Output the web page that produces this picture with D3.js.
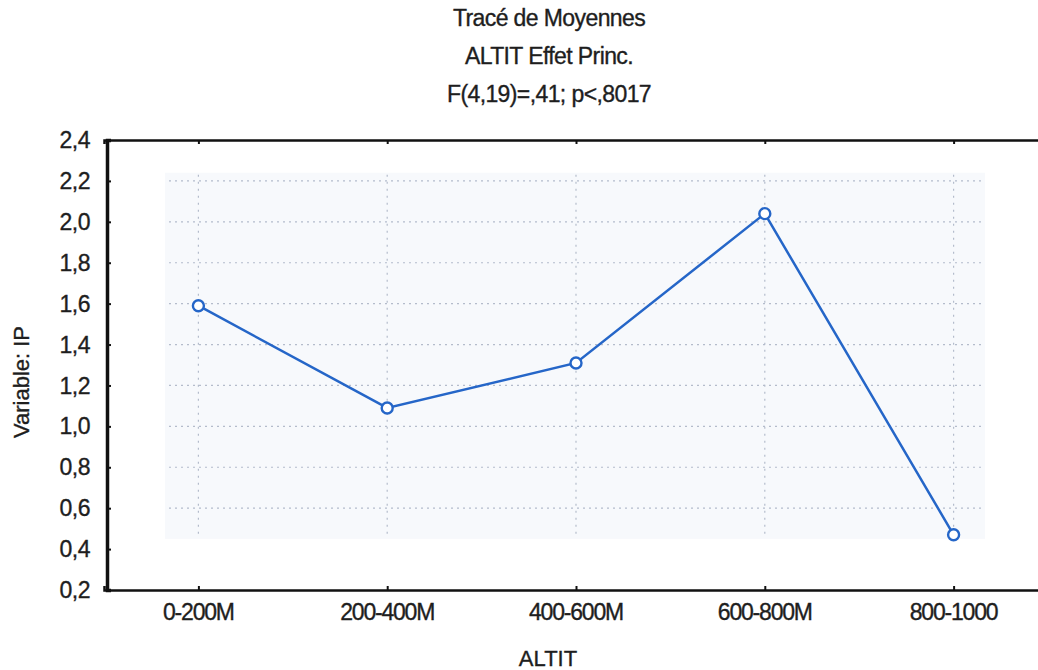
<!DOCTYPE html>
<html>
<head>
<meta charset="utf-8">
<script src="https://cdn.jsdelivr.net/npm/d3@7"></script>
<style>
    body { margin: 0; background: #fff; }
    svg text { font-family: "Liberation Sans", Arial, sans-serif; fill: #1e1e1e; stroke: #1e1e1e; stroke-width: 0.35px; }
</style>
</head>
<body>
<div id="chart"></div>
<script>
// Data
const categories = ['0-200M', '200-400M', '400-600M', '600-800M', '800-1000'];
const means = [1.59, 1.09, 1.31, 2.04, 0.47];
const yTicks = [0.2, 0.4, 0.6, 0.8, 1.0, 1.2, 1.4, 1.6, 1.8, 2.0, 2.2, 2.4];
const gridValues = [0.6, 0.8, 1.0, 1.2, 1.4, 1.6, 1.8, 2.0, 2.2];
const titleLines = ['Tracé de Moyennes', 'ALTIT Effet Princ.', 'F(4,19)=,41; p<,8017'];

const width = 1038,
    height = 670,
    margin = { top: 140, right: 0, bottom: 80, left: 107 },
    innerW = width - margin.left - margin.right,
    innerH = height - margin.top - margin.bottom;

const fmt = v => d3.format('.1f')(v).replace('.', ',');

const svg = d3.select('#chart')
    .append('svg')
    .attr('width', width)
    .attr('height', height);

// Scales
const x = d3.scalePoint()
    .domain(categories)
    .range([-3, innerW + 10])
    .padding(0.5);
const y = d3.scaleLinear()
    .domain([0.2, 2.4])
    .range([innerH, 0]);

const g = svg.append('g')
    .attr('transform', `translate(${margin.left}, ${margin.top})`);

// Faint scanned panel behind the grid
g.append('rect')
    .attr('x', 58)
    .attr('y', y(2.24))
    .attr('width', 820)
    .attr('height', y(0.45) - y(2.24))
    .attr('fill', '#f7f9fc');

// Dotted grid
g.append('g')
    .selectAll('line')
    .data(gridValues)
    .enter()
    .append('line')
    .attr('x1', 62)
    .attr('x2', 876)
    .attr('y1', d => y(d))
    .attr('y2', d => y(d))
    .attr('stroke', '#b4bccb')
    .attr('stroke-width', 1.2)
    .attr('stroke-dasharray', '2,4');

g.append('g')
    .selectAll('line')
    .data(categories)
    .enter()
    .append('line')
    .attr('x1', d => x(d))
    .attr('x2', d => x(d))
    .attr('y1', y(2.23))
    .attr('y2', y(0.47))
    .attr('stroke', '#b4bccb')
    .attr('stroke-width', 1.2)
    .attr('stroke-dasharray', '2,5');

// Axes
const yAxis = g.append('g')
    .call(d3.axisRight(y).tickValues(yTicks).tickSize(4).tickFormat(''));
yAxis.select('.domain').attr('stroke', '#111').attr('stroke-width', 3.5);
yAxis.selectAll('.tick line').attr('stroke', '#111').attr('stroke-width', 2);

g.append('g')
    .selectAll('text')
    .data(yTicks)
    .enter()
    .append('text')
    .attr('x', -17)
    .attr('y', d => y(d))
    .attr('dy', '0.35em')
    .attr('text-anchor', 'end')
    .style('font-size', '23px')
    .style('letter-spacing', '-0.5px')
    .text(fmt);

const xAxis = g.append('g')
    .attr('transform', `translate(0, ${innerH})`)
    .call(d3.axisTop(x).tickSize(4).tickFormat(''));
xAxis.select('.domain').attr('stroke', '#111').attr('stroke-width', 2.5);
xAxis.selectAll('.tick line').attr('stroke', '#111').attr('stroke-width', 2);

const topAxis = g.append('g')
    .call(d3.axisBottom(x).tickSize(4).tickFormat(''));
topAxis.select('.domain').attr('stroke', '#111').attr('stroke-width', 2.5);
topAxis.selectAll('.tick line').attr('stroke', '#111').attr('stroke-width', 2);

g.append('g')
    .selectAll('text')
    .data(categories)
    .enter()
    .append('text')
    .attr('x', d => x(d))
    .attr('y', innerH + 30)
    .attr('text-anchor', 'middle')
    .style('font-size', '23px')
    .style('letter-spacing', '-1.2px')
    .text(d => d);

// Line and markers
const line = d3.line()
    .x((d, i) => x(categories[i]))
    .y(d => y(d));

g.append('path')
    .datum(means)
    .attr('d', line)
    .attr('fill', 'none')
    .attr('stroke', '#2566c8')
    .attr('stroke-width', 2.5);

g.append('g')
    .selectAll('circle')
    .data(means)
    .enter()
    .append('circle')
    .attr('cx', (d, i) => x(categories[i]))
    .attr('cy', d => y(d))
    .attr('r', 5.5)
    .attr('fill', '#fff')
    .attr('stroke', '#2566c8')
    .attr('stroke-width', 2.4);

// Titles
svg.append('g')
    .selectAll('text')
    .data(titleLines)
    .enter()
    .append('text')
    .attr('x', 549)
    .attr('y', (d, i) => 26 + i * 38)
    .attr('text-anchor', 'middle')
    .style('font-size', '23px')
    .style('letter-spacing', '-0.6px')
    .text(d => d);

// Axis titles
svg.append('text')
    .attr('x', 548)
    .attr('y', 666)
    .attr('text-anchor', 'middle')
    .style('font-size', '22px')
    .text('ALTIT');

svg.append('text')
    .attr('transform', `translate(29, 382) rotate(-90)`)
    .attr('text-anchor', 'middle')
    .style('font-size', '22px')
    .text('Variable: IP');
</script>
</body>
</html>
